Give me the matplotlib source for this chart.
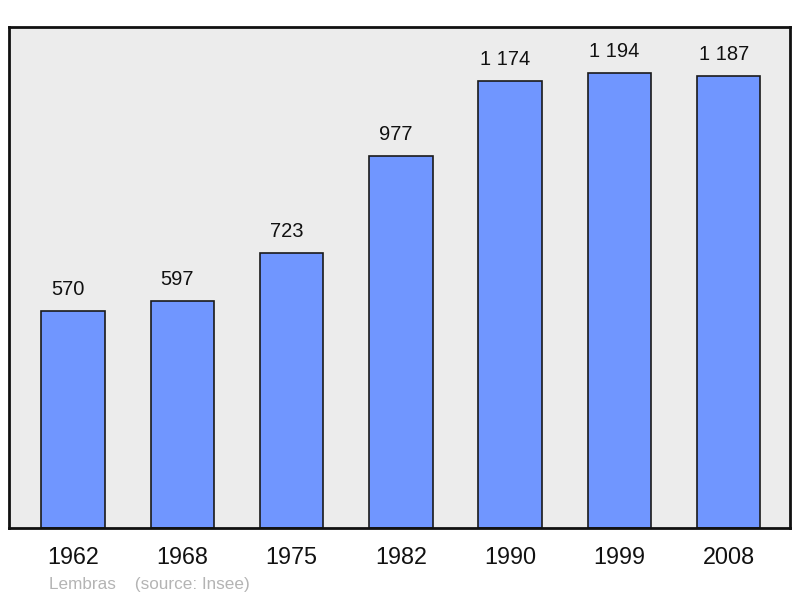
import matplotlib
matplotlib.use('Agg')
import matplotlib.pyplot as plt

years = ["1962", "1968", "1975", "1982", "1990", "1999", "2008"]
population = [570, 597, 723, 977, 1174, 1194, 1187]

plt.rcParams['font.family'] = ['Liberation Sans', 'DejaVu Sans']

fig = plt.figure(figsize=(8, 5.98), dpi=100)
ax = fig.add_axes([9 / 800, 70 / 598, 781 / 800, 501 / 598])
ax.set_facecolor("#ececec")

x = range(len(years))
bars = ax.bar(x, population, width=0.58, color="#7096ff", edgecolor="#1a1a1a", linewidth=1.2, zorder=2)

for xi, v in zip(x, population):
    label = f"{v:,}".replace(",", " ")
    ax.annotate(label, (xi, v), xytext=(-3.5, 8.5), textcoords="offset points",
                ha="center", va="bottom", fontsize=14.5, color="#111111")

ax.set_xlim(-0.585, 6.56)
ax.set_ylim(0, 1315)
ax.set_xticks(list(x))
ax.set_xticklabels(years, fontsize=16.8, color="#111111")
ax.tick_params(axis="x", length=0, pad=13)
ax.set_yticks([])
for s in ax.spines.values():
    s.set_linewidth(2)
    s.set_color("#111111")

fig.text(49 / 800, 1 - 584 / 598, "Lembras    (source: Insee)", fontsize=12.3,
         color="#b4b4b4", ha="left", va="center")

plt.savefig("out.png")
plt.close()
